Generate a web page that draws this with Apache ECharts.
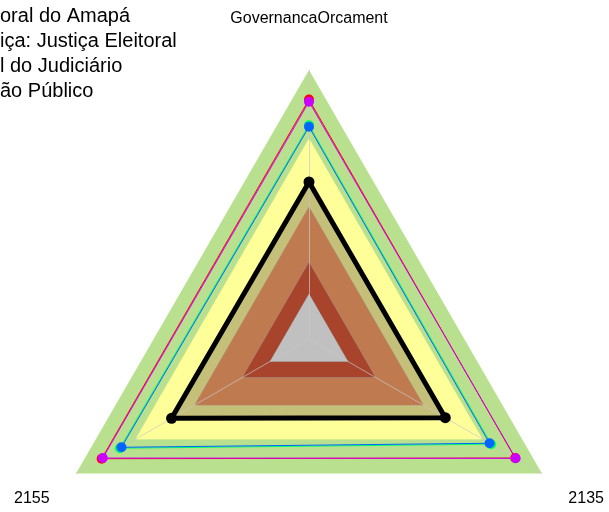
<!DOCTYPE html>
<html lang="pt">
  <head>
    <meta charset="UTF-8" />
    <title>Radar</title>
    <style>
      html, body { margin: 0; padding: 0; background: #fff; }
      #chart { width: 609px; height: 512px; }
    </style>
  </head>
  <body>
    <div id="chart"></div>
    <script src="https://cdn.jsdelivr.net/npm/echarts@6/dist/echarts.min.js"></script>
    <script>
      // indicadores (topo, esquerda-baixo, direita-baixo)
      var indicators = ["GovernancaOrcament", "2155", "2135"];
      var legendLines = ["oral do Amapá", "iça: Justiça Eleitoral", "l do Judiciário", "ão Público"];

      // faixas de fundo (valores relativos, 0..1)
      var bandGreen = [1, 1, 1];
      var bandYellow = [0.745, 0.745, 0.745];
      var bandBrown = [0.49, 0.49, 0.49];
      var bandDarkRed = [0.285, 0.285, 0.285];
      var bandGray = [0.166, 0.166, 0.166];

      // séries
      var serieRed = [0.89, 0.89, 0.885];
      var serieGreen = [0.795, 0.812, 0.782];
      var serieBlue = [0.789, 0.805, 0.775];
      var serieMagenta = [0.882, 0.885, 0.887];
      var serieBlack = [0.584, 0.59, 0.585];

      var chart = echarts.init(document.getElementById("chart"));

      function band(vals, color, border, z) {
        return {
          type: "radar",
          z: z,
          silent: true,
          symbol: "none",
          lineStyle: { width: border ? 1 : 0, color: border || color },
          areaStyle: { color: color, opacity: 1 },
          data: [{ value: vals }],
        };
      }

      function line(vals, color, width, size, z) {
        return {
          type: "radar",
          z: z,
          symbol: "circle",
          symbolSize: size,
          itemStyle: { color: color },
          lineStyle: { color: color, width: width },
          data: [{ value: vals }],
        };
      }

      var ind = indicators.map(function (n) {
        return { name: n, min: 0, max: 1 };
      });

      var option = {
        animation: false,
        title: {
          text: legendLines.join("\n"),
          left: 0,
          top: 4,
          padding: 0,
          textStyle: {
            fontFamily: "Liberation Sans",
            fontWeight: "normal",
            fontSize: 20,
            lineHeight: 25,
            color: "#000",
          },
        },
        radar: [
          {
            center: [309, 339],
            radius: 269,
            startAngle: 90,
            shape: "polygon",
            indicator: ind,
            nameGap: 51,
            axisName: {
              color: "#000",
              fontFamily: "Liberation Sans",
              fontSize: 16,
              align: "center",
              verticalAlign: "middle",
            },
            splitNumber: 1,
            splitLine: { show: false },
            splitArea: { show: false },
            axisLine: { show: false },
          },
          {
            // só as linhas dos eixos, por cima das faixas
            center: [309, 339],
            radius: 269,
            startAngle: 90,
            shape: "polygon",
            z: 8,
            indicator: indicators.map(function () {
              return { name: "", min: 0, max: 1 };
            }),
            splitNumber: 1,
            splitLine: { show: false },
            splitArea: { show: false },
            axisLine: { lineStyle: { color: "#c8c8c8", width: 1, opacity: 0.7 } },
          },
        ],
        series: [
          band(bandGreen, "#b8e08e", null, 2),
          band(bandYellow, "#ffff99", "#c8e890", 3),
          band(serieBlack, "#c4c07a", null, 4),
          band(bandBrown, "#c07a50", "#b09080", 5),
          band(bandDarkRed, "#a8432c", "#a09090", 6),
          band(bandGray, "#c0c0c0", "#a0a0a0", 7),
          line(serieBlack, "#000", 5, 11, 10),
          line(serieRed, "#ff0000", 1, 10, 11),
          line(serieGreen, "#00ff66", 1, 10, 11),
          line(serieBlue, "#0066ff", 1, 10, 11),
          line(serieMagenta, "#cc00ff", 1, 10, 11),
        ],
      };

      chart.setOption(option);
    </script>
  </body>
</html>
